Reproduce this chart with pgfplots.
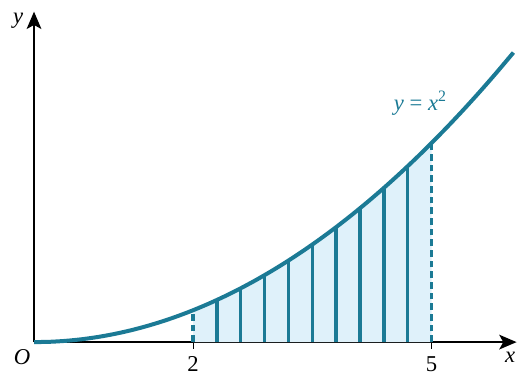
\documentclass[border=0pt]{standalone}
\usepackage{pgfplots}
\pgfplotsset{compat=1.18}
\usepackage{fontspec}
\setmainfont{Liberation Serif}
\usetikzlibrary{arrows.meta}
\definecolor{curve}{HTML}{1B7A95}
\definecolor{shade}{HTML}{DFF1FA}
\begin{document}
\begin{tikzpicture}
\begin{axis}[
  x=59.6pt, y=5.97pt,
  xmin=0, xmax=6.07, ymin=0, ymax=41.5,
  axis lines=left,
  axis line style={line width=1.5pt, -{Stealth[length=13pt,width=11pt,inset=3pt]}},
  xtick={2,5}, xticklabels={2,5},
  ytick=\empty,
  tick align=outside, major tick length=5pt,
  tick style={black, line width=0.6pt},
  xtick pos=left,
  ticklabel style={font=\fontsize{17}{19}\selectfont},
  xticklabel style={yshift=-2pt},
  clip=false,
]
% shaded region x in [2,5], y = x^2
\addplot[fill=shade, draw=none] coordinates {
 (2,4) (2.2,4.84) (2.4,5.76) (2.6,6.76) (2.8,7.84) (3,9) (3.2,10.24) (3.4,11.56)
 (3.6,12.96) (3.8,14.44) (4,16) (4.2,17.64) (4.4,19.36) (4.6,21.16) (4.8,23.04) (5,25)
 (5,0) (2,0)} -- cycle;
% strips
\addplot[ycomb, draw=curve, line width=2.6pt, mark=none] coordinates {
 (2.3,5.29) (2.6,6.76) (2.9,8.41) (3.2,10.24) (3.5,12.25) (3.8,14.44) (4.1,16.81) (4.4,19.36) (4.7,22.09)};
\addplot[ycomb, draw=curve, line width=2.6pt, dash pattern=on 5pt off 3pt, mark=none] coordinates {
 (2,4) (5,25)};
% curve y = x^2
\addplot[draw=curve, line width=3pt, smooth, mark=none] coordinates {
 (0,0) (0.2,0.04) (0.4,0.16) (0.6,0.36) (0.8,0.64) (1,1) (1.2,1.44) (1.4,1.96)
 (1.6,2.56) (1.8,3.24) (2,4) (2.2,4.84) (2.4,5.76) (2.6,6.76) (2.8,7.84) (3,9)
 (3.2,10.24) (3.4,11.56) (3.6,12.96) (3.8,14.44) (4,16) (4.2,17.64) (4.4,19.36)
 (4.6,21.16) (4.8,23.04) (5,25) (5.2,27.04) (5.4,29.16) (5.6,31.36) (5.8,33.64) (6,36) (6.03,36.36)};
\node[font=\fontsize{17}{19}\selectfont] at (axis cs:-0.15,-1.9) {\textit{O}};
\node[font=\fontsize{17}{19}\selectfont] at (axis cs:5.99,-1.9) {\textit{x}};
\node[font=\fontsize{17}{19}\selectfont] at (axis cs:-0.2,40.4) {\textit{y}};
\node[font=\fontsize{17}{19}\selectfont, text=curve] at (axis cs:4.86,30) {\textit{y} = \textit{x}\textsuperscript{2}};
\coordinate (bl) at (axis cs:-0.428,-4.146);
\coordinate (tr) at (axis cs:6.075,42.96);
\end{axis}
\pgfresetboundingbox
\path[use as bounding box] (bl) rectangle (tr);
\end{tikzpicture}
\end{document}
